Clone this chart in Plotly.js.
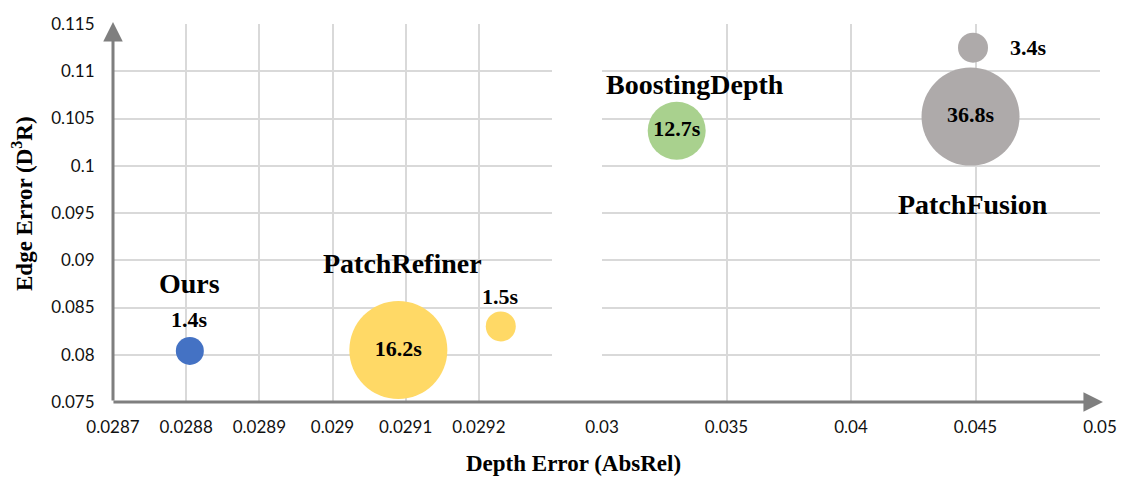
<!DOCTYPE html>
<html>
<head>
<meta charset="utf-8">
<script src="https://cdn.plot.ly/plotly-3.0.1.min.js"></script>
<style>html,body{margin:0;padding:0;background:#fff;}#chart{width:1139px;height:490px;}</style>
</head>
<body>
<div id="chart"></div>
<script>
// ---- data ----
const methods = ["Ours", "PatchRefiner", "PatchRefiner", "BoostingDepth", "PatchFusion", "PatchFusion"];
const timeLabels = ["1.4s", "16.2s", "1.5s", "12.7s", "3.4s", "36.8s"];
const depthError = [0.028805, 0.02909, 0.02923, 0.0330, 0.0449, 0.0448];
const edgeError = [0.0804, 0.0805, 0.0830, 0.1037, 0.1125, 0.1052];
const bubbleSize = [28, 98, 30, 58, 30, 98];
const colors = ["#4472C4", "#FFD966", "#FFD966", "#A9D18E", "#AEAAAA", "#AEAAAA"];
const leftTicks = [0.0287, 0.0288, 0.0289, 0.029, 0.0291, 0.0292, 0.0293];
const leftTickText = ["0.0287", "0.0288", "0.0289", "0.029", "0.0291", "0.0292", ""];
const rightTicks = [0.03, 0.035, 0.04, 0.045, 0.05];
const rightTickText = ["0.03", "0.035", "0.04", "0.045", "0.05"];
const yTicks = [0.075, 0.08, 0.085, 0.09, 0.095, 0.1, 0.105, 0.11, 0.115];
const yTickText = ["0.075", "0.08", "0.085", "0.09", "0.095", "0.1", "0.105", "0.11", "0.115"];
const breakAt = 0.0295; // split between left and right x panels

const serif = "Liberation Serif, Times New Roman, serif";
const tickFont = {family: "Lato, Carlito, Calibri, sans-serif", size: 17, color: "#111"};

const W = 1139, H = 490;
const margin = {l: 113, r: 39, t: 24, b: 88};
const plotW = W - margin.l - margin.r;
const plotH = H - margin.t - margin.b;

const traces = [];
for (let i = 0; i < methods.length; i++) {
  const right = depthError[i] > breakAt;
  const inner = bubbleSize[i] > 50;
  traces.push({
    type: "scatter", mode: inner ? "markers+text" : "markers",
    x: [depthError[i]], y: [edgeError[i]],
    xaxis: right ? "x2" : "x", yaxis: "y",
    marker: {size: bubbleSize[i], color: colors[i], line: {width: 0}, opacity: 1},
    text: inner ? [timeLabels[i]] : undefined,
    textposition: "middle center",
    textfont: {family: serif, size: 22, color: "#000", weight: "bold"},
    hoverinfo: "skip", showlegend: false, cliponaxis: false
  });
}

// outside labels: [index, text, xshift, yshift, size]
const outside = [
  [0, "Ours", 0, 67, 28],
  [0, timeLabels[0], 0, 31, 22],
  [1, "PatchRefiner", 4, 87, 28],
  [2, timeLabels[2], 0, 30, 22],
  [3, "BoostingDepth", 18, 46, 28],
  [5, "PatchFusion", 2, -88, 28],
  [4, timeLabels[4], 55, 0, 22]
];
const annotations = outside.map(([i, t, xs, ys, sz]) => ({
  xref: depthError[i] > breakAt ? "x2" : "x", yref: "y",
  x: depthError[i], y: edgeError[i], text: "<b>" + t + "</b>",
  showarrow: false, xshift: xs, yshift: ys,
  font: {family: serif, size: sz, color: "#000"}, xanchor: "center", yanchor: "middle"
}));

// axis arrows
annotations.push({
  xref: "paper", yref: "paper", x: 0, y: 1.005, ax: 0, ay: plotH + 2,
  axref: "pixel", ayref: "pixel", text: "", showarrow: true,
  arrowhead: 2, arrowsize: 1.3, arrowwidth: 3, arrowcolor: "#7f7f7f"
});
annotations.push({
  xref: "paper", yref: "paper", x: 1.003, y: 0, ax: -plotW - 4, ay: 0,
  axref: "pixel", ayref: "pixel", text: "", showarrow: true,
  arrowhead: 2, arrowsize: 1.3, arrowwidth: 3, arrowcolor: "#7f7f7f"
});
// axis titles
annotations.push({
  xref: "paper", yref: "paper", x: (573 - margin.l) / plotW, y: -(463 - (H - margin.b)) / plotH,
  text: "<b>Depth Error (AbsRel)</b>", showarrow: false, xanchor: "center", yanchor: "middle",
  font: {family: serif, size: 23, color: "#000"}
});
annotations.push({
  xref: "paper", yref: "paper", x: -(margin.l - 22) / plotW, y: ((H - margin.b) - 204) / plotH,
  text: "<b>Edge Error (D<sup>3</sup>R)</b>", showarrow: false, textangle: -90,
  xanchor: "center", yanchor: "middle",
  font: {family: serif, size: 23, color: "#000"}
});

const leftEnd = (552 - margin.l) / plotW;
const rightStart = (602 - margin.l) / plotW;

const gridStyle = {showgrid: true, gridcolor: "#d9d9d9", gridwidth: 2, zeroline: false, showline: false};

const layout = {
  width: W, height: H, margin: margin,
  paper_bgcolor: "#fff", plot_bgcolor: "rgba(0,0,0,0)",
  showlegend: false,
  xaxis: Object.assign({}, gridStyle, {
    domain: [0, leftEnd], range: [0.0287, 0.0293], tickmode: "array",
    tickvals: leftTicks, ticktext: leftTickText, tickfont: tickFont,
    ticks: "outside", ticklen: 10, tickcolor: "rgba(0,0,0,0)", anchor: "y"
  }),
  xaxis2: Object.assign({}, gridStyle, {
    domain: [rightStart, 1], range: [0.03, 0.05], tickmode: "array",
    tickvals: rightTicks, ticktext: rightTickText, tickfont: tickFont,
    ticks: "outside", ticklen: 10, tickcolor: "rgba(0,0,0,0)", anchor: "y"
  }),
  yaxis: Object.assign({}, gridStyle, {
    domain: [0, 1], range: [0.075, 0.115], tickmode: "array",
    tickvals: yTicks, ticktext: yTickText, tickfont: tickFont,
    ticks: "outside", ticklen: 14, tickcolor: "rgba(0,0,0,0)", anchor: "x"
  }),
  annotations: annotations
};

Plotly.newPlot("chart", traces, layout, {staticPlot: true, displayModeBar: false});
</script>
</body>
</html>
